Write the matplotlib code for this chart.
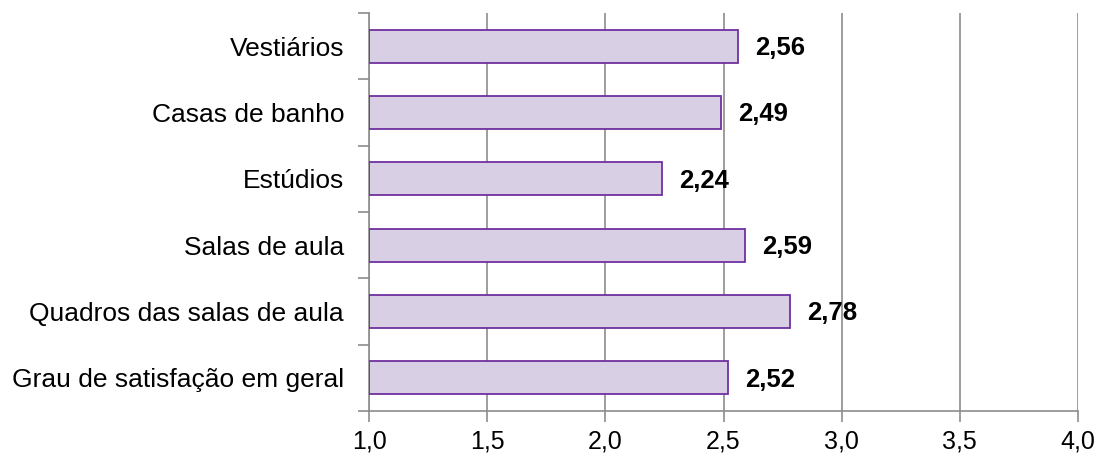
import numpy as np
import matplotlib
matplotlib.use('Agg')
from matplotlib import pyplot as plt

categories = ['Vestiários', 'Casas de banho', 'Estúdios', 'Salas de aula',
              'Quadros das salas de aula', 'Grau de satisfação em geral']
values = [2.56, 2.49, 2.24, 2.59, 2.78, 2.52]
x_ticks = [1.0, 1.5, 2.0, 2.5, 3.0, 3.5, 4.0]

plt.rcParams['font.family'] = ['Liberation Sans', 'DejaVu Sans']

fig = plt.figure(figsize=(11, 4.54), dpi=100)
ax = fig.add_axes([0.3355, 0.0947, 0.98 - 0.3355, 0.9714 - 0.0947])

y = np.arange(len(categories))[::-1]
base = 1.0
ax.barh(y, [v - base for v in values], left=base, height=0.5,
        color='#D9CFE5', edgecolor='#7030A0', linewidth=1.3, zorder=3)

# value labels, comma decimal
for yi, v in zip(y, values):
    ax.text(v + 0.072, yi - 0.03, '{:.2f}'.format(v).replace('.', ','),
            va='center', ha='left', fontsize=18.5, fontweight='bold', zorder=4)

ax.set_xlim(1.0, 4.0)
ax.set_ylim(-0.5, len(categories) - 0.5)
ax.set_xticks(x_ticks)
ax.set_xticklabels(['{:.1f}'.format(t).replace('.', ',') for t in x_ticks], fontsize=18)
ax.set_yticks(y)
ax.set_yticklabels(categories, fontsize=19)
ax.set_yticks(np.arange(-0.5, len(categories), 1.0), minor=True)

ax.xaxis.grid(True, color='#8C8C8C', linewidth=1.2, zorder=0)
ax.tick_params(axis='x', length=8, width=1.2, color='#8C8C8C', pad=5)
ax.tick_params(axis='y', which='major', length=0, pad=18)
ax.tick_params(axis='y', which='minor', length=8, width=1.2, color='#8C8C8C')

for s in ['top', 'right']:
    ax.spines[s].set_visible(False)
for s in ['left', 'bottom']:
    ax.spines[s].set_color('#8C8C8C')
    ax.spines[s].set_linewidth(1.2)

fig.savefig('out.png', dpi=100)
